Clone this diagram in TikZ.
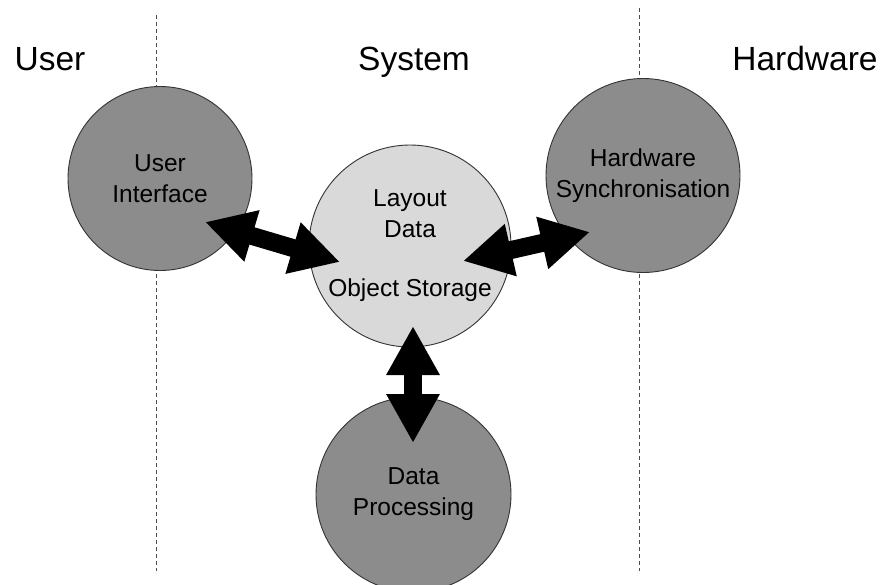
\documentclass[tikz,border=0pt]{standalone}
\usepackage{fontspec}
\setmainfont{Liberation Sans}
\usetikzlibrary{arrows.meta,calc}
\definecolor{darkfill}{HTML}{8C8C8C}
\definecolor{lightfill}{HTML}{D9D9D9}
\definecolor{edgecol}{HTML}{333333}
\begin{document}
\begin{tikzpicture}[x=1pt,y=-1pt,
  bubble/.style={circle,draw=edgecol,line width=0.9pt,inner sep=0pt,align=center,
    font=\fontsize{24.5}{31}\selectfont,text=black},
  darkb/.style={bubble,fill=darkfill},
  lightb/.style={bubble,fill=lightfill},
  header/.style={font=\fontsize{33.5}{40}\selectfont,anchor=base},
  divider/.style={draw=gray!60!black,line width=0.9pt,dash pattern=on 4pt off 3pt},
  dbl/.style={line width=18pt,{Triangle[length=49pt,width=50pt]}-{Triangle[length=49pt,width=50pt]}}
]
\useasboundingbox (0,0) rectangle (882,584);
\coordinate (d1t) at (156,15);
\coordinate (d1b) at (156,571);
\coordinate (d2t) at (639,8);
\coordinate (d2b) at (639,571);
\draw[divider] (d1t) -- (d1b);
\draw[divider] (d2t) -- (d2b);
\node[header] (hu) at (50,70) {User};
\node[header] (hsys) at (414,70) {System};
\node[header] (hhw) at (805,70) {Hardware};
\node[darkb,minimum size=184pt] (ui) at (160,178.5) {User\\Interface};
\node[lightb,minimum size=202pt] (ld) at (410,246) {Layout\\Data\\[28pt]Object Storage};
\node[darkb,minimum size=194pt] (hs) at (643,175.5) {Hardware\\Synchronisation};
\node[darkb,minimum size=195pt] (dp) at (413.5,494.5) {Data\\Processing};
\coordinate (a1s) at ($(ui.center)+(45,43.5)$);
\coordinate (a1e) at ($(ld.center)+(-70,16)$);
\coordinate (a2s) at ($(ld.center)+(53,15)$);
\coordinate (a2e) at ($(hs.center)+(-53,56.5)$);
\coordinate (a3s) at ($(ld.center)+(3,80)$);
\coordinate (a3e) at ($(dp.center)+(-0.5,-51.5)$);
\draw[dbl] (a1s) -- (a1e);
\draw[dbl] (a2s) -- (a2e);
\draw[dbl] (a3s) -- (a3e);
\end{tikzpicture}
\end{document}
